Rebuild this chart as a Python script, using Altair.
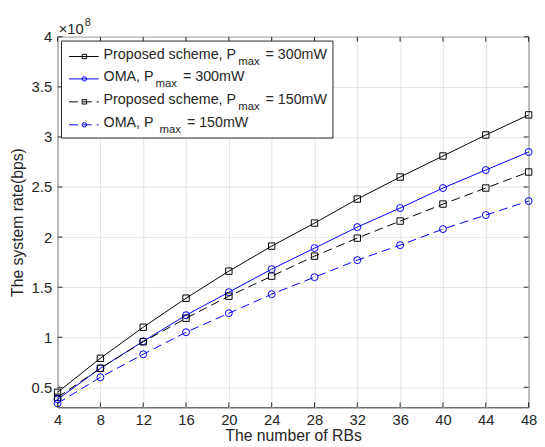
import altair as alt
import pandas as pd

# ---------------- data (rates in units of 1e8 bps) ----------------
rbs = [4, 8, 12, 16, 20, 24, 28, 32, 36, 40, 44, 48]
proposed_300 = [0.45, 0.79, 1.10, 1.39, 1.66, 1.91, 2.14, 2.38, 2.60, 2.81, 3.02, 3.22]
oma_300 = [0.38, 0.69, 0.96, 1.22, 1.45, 1.68, 1.89, 2.10, 2.29, 2.49, 2.67, 2.85]
proposed_150 = [0.40, 0.69, 0.955, 1.19, 1.41, 1.61, 1.81, 1.99, 2.16, 2.33, 2.49, 2.65]
oma_150 = [0.34, 0.60, 0.83, 1.05, 1.24, 1.43, 1.60, 1.77, 1.92, 2.08, 2.22, 2.36]

x_ticks = [4, 8, 12, 16, 20, 24, 28, 32, 36, 40, 44, 48]
y_ticks = [0.5, 1, 1.5, 2, 2.5, 3, 3.5, 4]
x_domain = [4, 48]
y_domain = [0.3, 4]

legend_main = ["Proposed scheme, P", "OMA, P", "Proposed scheme, P", "OMA,  P"]
legend_sub = ["max", "max", "max", "max"]
legend_tail = ["= 300mW", "= 300mW", "= 150mW", "= 150mW"]

x_title = "The number of RBs"
y_title = "The system rate(bps)"
exp_base = "\u00d710"
exp_power = "8"

# ---------------- layout / style ----------------
FONT = "Liberation Sans"
TXT = "#262626"
W, H = 478, 376
OX, OY = 58.3, 34.0  # page position of plot origin
SVG_BOTTOM = 447     # page y where the drawing ends

series = [
    (proposed_300, "#000000", "square", []),
    (oma_300, "#0000ff", "circle", []),
    (proposed_150, "#000000", "square", [9, 5]),
    (oma_150, "#0000ff", "circle", [9, 5]),
]

xs = alt.Scale(domain=x_domain, nice=False, zero=False)
ys = alt.Scale(domain=y_domain, nice=False, zero=False)

x_axis = alt.Axis(values=x_ticks, grid=True, gridColor="#e3e3e3", gridWidth=1,
                  domain=False, ticks=False, labelFont=FONT, labelFontSize=15,
                  labelColor=TXT, labelPadding=5, labelFlush=False, labelOverlap=False,
                  title=x_title, titleFont=FONT, titleFontSize=16,
                  titleFontWeight="normal", titleColor=TXT, titleX=W / 2,
                  titleY=444 - OY - H,
                  titleBaseline="alphabetic", titleAlign="center")
y_axis = alt.Axis(values=y_ticks, format="~g", grid=True, gridColor="#e3e3e3", gridWidth=1,
                  domain=False, ticks=False, labelFont=FONT, labelFontSize=15,
                  labelColor=TXT, labelPadding=6, labelFlush=False, labelOverlap=False,
                  title=y_title, titleFont=FONT, titleFontSize=16,
                  titleFontWeight="normal", titleColor=TXT, titleAngle=270,
                  titleX=-35.5, titleY=H / 2, titleBaseline="alphabetic", titleAlign="center")

X = alt.X("rb:Q", scale=xs, axis=x_axis)
Y = alt.Y("rate:Q", scale=ys, axis=y_axis)

layers = []
for vals, color, shape, dash in series:
    df = pd.DataFrame({"rb": rbs, "rate": vals})
    line_kw = dict(color=color, strokeWidth=1)
    if dash:
        line_kw["strokeDash"] = dash
    layers.append(alt.Chart(df).mark_line(**line_kw).encode(x=X, y=Y))
    layers.append(alt.Chart(df).mark_point(shape=shape, filled=False, color=color,
                                           strokeWidth=1, size=(42 if shape == "square" else 50),
                                           opacity=1).encode(x=X, y=Y))

# inward ticks on all four sides
xt = pd.DataFrame({"rb": x_ticks})
yt = pd.DataFrame({"rate": y_ticks})
tick_kw = dict(color=TXT, strokeWidth=1)
layers.append(alt.Chart(xt).mark_rule(**tick_kw).encode(x=X, y=alt.value(H), y2=alt.value(H - 5)))
layers.append(alt.Chart(xt).mark_rule(**tick_kw).encode(x=X, y=alt.value(0), y2=alt.value(5)))
layers.append(alt.Chart(yt).mark_rule(**tick_kw).encode(y=Y, x=alt.value(0), x2=alt.value(5)))
layers.append(alt.Chart(yt).mark_rule(**tick_kw).encode(y=Y, x=alt.value(W - 5), x2=alt.value(W)))

one = pd.DataFrame({"a": [0]})

# ---------------- legend ----------------
AW = {" ": 278, ",": 278, "=": 584, "0": 556, "1": 556, "3": 556, "5": 556,
      "A": 667, "M": 833, "O": 778, "P": 667, "W": 944, "a": 556, "c": 500,
      "d": 556, "e": 556, "h": 556, "m": 833, "o": 556, "p": 556, "r": 333,
      "s": 500, "x": 500}


def tw(s, size):
    return sum(AW.get(c, 556) for c in s) / 1000.0 * size


LF, SF = 14.5, 11.5
mx = 105.0
ends = []
pieces = []
for i in range(4):
    sx = mx + tw(legend_main[i], LF) + 2
    ex = sx + tw(legend_sub[i], SF) + 6
    ends.append(ex + tw(legend_tail[i], LF))
    pieces.append((sx, ex))
box_right = max(ends) + 6

layers.append(alt.Chart(one).mark_rect(fill="white", stroke=TXT, strokeWidth=1).encode(
    x=alt.value(62.3 - OX), x2=alt.value(box_right - OX),
    y=alt.value(38.3 - OY), y2=alt.value(136.7 - OY)))

row_y = [54.0, 76.7, 100.0, 123.3]
for i, (vals, color, shape, dash) in enumerate(series):
    ly = row_y[i] - OY
    rk = dict(color=color, strokeWidth=1)
    if dash:
        rk["strokeDash"] = dash
    layers.append(alt.Chart(one).mark_rule(**rk).encode(
        x=alt.value(70 - OX), x2=alt.value(100 - OX), y=alt.value(ly)))
    layers.append(alt.Chart(one).mark_point(shape=shape, filled=False, color=color,
                                            strokeWidth=1, size=20, opacity=1).encode(
        x=alt.value(85.5 - OX), y=alt.value(ly)))
    sx, ex = pieces[i]
    base = dict(font=FONT, color=TXT, align="left", baseline="alphabetic")
    layers.append(alt.Chart(one).mark_text(fontSize=LF, text=legend_main[i], **base).encode(
        x=alt.value(mx - OX), y=alt.value(ly + 2.6)))
    layers.append(alt.Chart(one).mark_text(fontSize=SF, text=legend_sub[i], **base).encode(
        x=alt.value(sx - OX), y=alt.value(ly + 8.6)))
    layers.append(alt.Chart(one).mark_text(fontSize=LF, text=legend_tail[i], **base).encode(
        x=alt.value(ex - OX), y=alt.value(ly + 2.6)))

# ---------------- x10^8 multiplier ----------------
base = dict(font=FONT, color=TXT, align="left", baseline="alphabetic")
layers.append(alt.Chart(one).mark_text(fontSize=15, text=exp_base, **base).encode(
    x=alt.value(59.5 - OX), y=alt.value(31 - OY)))
layers.append(alt.Chart(one).mark_text(fontSize=11, text=exp_power, **base).encode(
    x=alt.value(59.5 + tw("=10", 15) + 1 - OX), y=alt.value(23.5 - OY)))

chart = alt.layer(*layers).properties(
    width=W, height=H,
    autosize=alt.AutoSizeParams(type="none"),
    padding={"left": OX - 8, "top": OY - 8, "right": 8.5, "bottom": SVG_BOTTOM - OY - H},
    background="white",
).configure_view(stroke=TXT, strokeWidth=1)

chart.save("out.html", embed_options={"renderer": "svg", "actions": False})
